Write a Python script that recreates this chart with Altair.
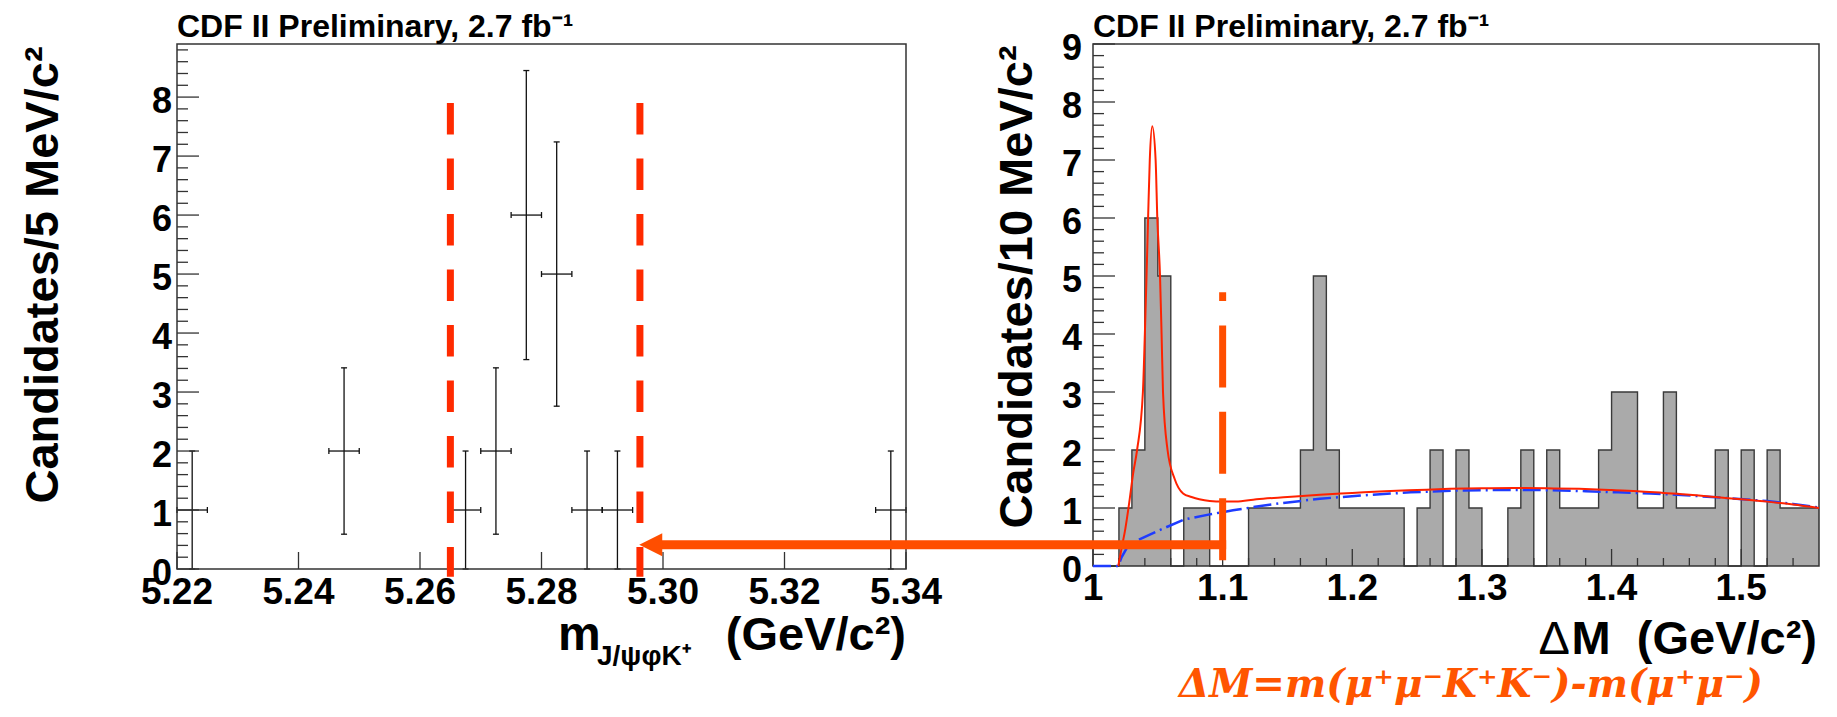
import altair as alt
import pandas as pd

# ---------------- data ----------------
# Left panel: m(J/psi phi K+) in 5 MeV bins
mass_center = [5.2225, 5.2475, 5.2675, 5.2725, 5.2775, 5.2825, 5.2875, 5.2925, 5.3375]
mass_count = [1, 2, 1, 2, 6, 5, 1, 1, 1]
mass_err_lo = [0.0, 0.59, 0.0, 0.59, 3.55, 2.76, 0.0, 0.0, 0.0]
mass_err_hi = [2.0, 3.41, 2.0, 3.41, 8.45, 7.24, 2.0, 2.0, 2.0]
mass_bin_lo = [5.220, 5.245, 5.265, 5.270, 5.275, 5.280, 5.285, 5.290, 5.335]
mass_bin_hi = [5.225, 5.250, 5.270, 5.275, 5.280, 5.285, 5.290, 5.295, 5.340]
mass_window = [5.265, 5.2962]
window_top = [7.90, 7.90]
window_bottom = [-0.13, -0.13]

# Right panel: Delta M in 10 MeV bins from 1.00 to 1.56
dm_bin_lo = [round(1.00 + 0.01 * i, 2) for i in range(56)]
dm_count = [0, 0, 1, 2, 6, 5, 0, 1, 1, 0,
            0, 0, 1, 1, 1, 1, 2, 5, 2, 1,
            1, 1, 1, 1, 0, 1, 2, 0, 2, 1,
            0, 0, 1, 2, 0, 2, 1, 1, 1, 2,
            3, 3, 1, 1, 3, 1, 1, 1, 2, 0,
            2, 0, 2, 1, 1, 1]

fit_dm = [1.0195, 1.022, 1.025, 1.028, 1.031, 1.034, 1.0385, 1.040, 1.0413, 1.0425,
          1.0438, 1.0457, 1.0483, 1.0496, 1.0517, 1.0529, 1.054, 1.0575, 1.063, 1.0695,
          1.076, 1.082, 1.09, 1.10, 1.11, 1.126, 1.15, 1.175, 1.20, 1.225,
          1.25, 1.275, 1.30, 1.325, 1.35, 1.375, 1.40, 1.42, 1.44, 1.46,
          1.48, 1.50, 1.52, 1.54, 1.56]
fit_val = [0.0, 0.3, 0.65, 1.1, 1.6, 2.0, 3.0, 4.0, 5.0, 6.0,
           7.0, 7.58, 7.0, 6.0, 5.0, 4.0, 3.0, 2.0, 1.5, 1.25,
           1.19, 1.15, 1.12, 1.11, 1.11, 1.15, 1.19, 1.23, 1.26, 1.29,
           1.31, 1.33, 1.34, 1.345, 1.34, 1.33, 1.31, 1.29, 1.26, 1.23,
           1.19, 1.15, 1.11, 1.06, 1.00]

bkg_dm = [1.0, 1.0195, 1.022, 1.026, 1.035, 1.0515, 1.07, 1.09, 1.108, 1.125,
          1.144, 1.175, 1.21, 1.245, 1.28, 1.31, 1.345, 1.38, 1.405, 1.43,
          1.45, 1.49, 1.52, 1.54, 1.56]
bkg_val = [0.0, 0.0, 0.15, 0.31, 0.45, 0.62, 0.80, 0.89, 0.96, 1.02,
           1.08, 1.16, 1.22, 1.27, 1.30, 1.31, 1.31, 1.29, 1.27, 1.25,
           1.23, 1.17, 1.12, 1.07, 1.01]

cut_dm = [1.1]
cut_bottom = [0.10]
cut_top = [4.72]
arrow_tip = [0.650]      # lands on the 5.296 window edge of the left panel
arrow_tail = [1.1]
arrow_level = [0.367]

# ticks / labels
left_y_major = list(range(9))
left_y_minor = [round(0.2 * i, 1) for i in range(45) if i % 5]
left_x_major = [5.22, 5.24, 5.26, 5.28, 5.30, 5.32, 5.34]
left_x_labels = ["5.22", "5.24", "5.26", "5.28", "5.30", "5.32", "5.34"]
right_y_major = list(range(10))
right_y_minor = [round(0.2 * i, 1) for i in range(45) if i % 5]
right_x_major = [1.0, 1.1, 1.2, 1.3, 1.4, 1.5]
right_x_labels = ["1", "1.1", "1.2", "1.3", "1.4", "1.5"]
right_x_minor = [round(1.0 + 0.02 * i, 2) for i in range(28) if i % 5]

FONT = "Liberation Sans"
RED = "#FF2A00"
ORANGE = "#FF4E00"
FIT = "#FF2200"
BLUE = "#1E3CFF"
AX = "#333333"


def S(domain, rng):
    return alt.Scale(domain=domain, range=rng, nice=False, zero=False)


xL = S([5.22, 5.34], [0, 729])
yL = S([0, 8.9], [525, 0])
xR = S([1.0, 1.56], [916, 1642])
yR = S([0, 9], [522, 0])


def X(f, s):
    return alt.X(f + ":Q", scale=s, axis=None)


def Y(f, s):
    return alt.Y(f + ":Q", scale=s, axis=None)


def panel_axes(xs, ys, x0, x1, y0, y1, ymaj, ymin, xmaj, xlab, xmin, ylab_dx, xlab_dy):
    layers = []
    frame = pd.DataFrame({"a": [x0], "b": [x1], "c": [y0], "d": [y1]})
    layers.append(alt.Chart(frame).mark_rect(fillOpacity=0, stroke=AX, strokeWidth=1.5)
                  .encode(x=X("a", xs), x2="b", y=Y("c", ys), y2="d"))
    ym = pd.DataFrame({"v": ymaj, "x0": x0, "t": [str(v) for v in ymaj]})
    layers.append(alt.Chart(ym).mark_rule(x2Offset=22, color=AX, strokeWidth=1.3)
                  .encode(y=Y("v", ys), x=X("x0", xs), x2="x0"))
    yn = pd.DataFrame({"v": ymin, "x0": x0})
    layers.append(alt.Chart(yn).mark_rule(x2Offset=11, color=AX, strokeWidth=1.3)
                  .encode(y=Y("v", ys), x=X("x0", xs), x2="x0"))
    xm = pd.DataFrame({"v": xmaj, "y0": y0, "t": xlab})
    layers.append(alt.Chart(xm).mark_rule(y2Offset=-17, color=AX, strokeWidth=1.3)
                  .encode(x=X("v", xs), y=Y("y0", ys), y2="y0"))
    if xmin:
        xn = pd.DataFrame({"v": xmin, "y0": y0})
        layers.append(alt.Chart(xn).mark_rule(y2Offset=-8, color=AX, strokeWidth=1.3)
                      .encode(x=X("v", xs), y=Y("y0", ys), y2="y0"))
    layers.append(alt.Chart(ym).mark_text(font=FONT, fontWeight="bold", fontSize=36, align="right",
                                          baseline="middle", dx=ylab_dx, dy=5, color="black")
                  .encode(y=Y("v", ys), x=X("x0", xs), text="t:N"))
    layers.append(alt.Chart(xm).mark_text(font=FONT, fontWeight="bold", fontSize=37, align="center",
                                          baseline="alphabetic", dy=xlab_dy, color="black")
                  .encode(x=X("v", xs), y=Y("y0", ys), text="t:N"))
    return layers


# ---------------- left panel ----------------
pts = pd.DataFrame({"xc": mass_center, "n": mass_count, "lo": mass_err_lo, "hi": mass_err_hi,
                    "xl": mass_bin_lo, "xh": mass_bin_hi})
ERR = dict(color="#111111", strokeWidth=1.3)
left_layers = []
left_layers.append(alt.Chart(pts).mark_rule(**ERR).encode(x=X("xc", xL), y=Y("lo", yL), y2="hi"))
left_layers.append(alt.Chart(pts).mark_rule(**ERR).encode(x=X("xl", xL), x2="xh", y=Y("n", yL)))
left_layers.append(alt.Chart(pts).mark_rule(xOffset=-3, x2Offset=3, **ERR)
                   .encode(x=X("xc", xL), x2="xc", y=Y("hi", yL)))
left_layers.append(alt.Chart(pts).mark_rule(xOffset=-3, x2Offset=3, **ERR)
                   .encode(x=X("xc", xL), x2="xc", y=Y("lo", yL)))
left_layers.append(alt.Chart(pts).mark_rule(yOffset=-3, y2Offset=3, **ERR)
                   .encode(x=X("xl", xL), y=Y("n", yL), y2="n"))
left_layers.append(alt.Chart(pts).mark_rule(yOffset=-3, y2Offset=3, **ERR)
                   .encode(x=X("xh", xL), y=Y("n", yL), y2="n"))
left_layers += panel_axes(xL, yL, 5.22, 5.34, 0, 8.9, left_y_major, left_y_minor,
                          left_x_major, left_x_labels, [], -5, 35)
win = pd.DataFrame({"x": mass_window, "top": window_top, "bot": window_bottom})
left_layers.append(alt.Chart(win).mark_rule(color=RED, strokeWidth=7, strokeDash=[31.5, 24])
                   .encode(x=X("x", xL), y=Y("top", yL), y2="bot"))
left = alt.layer(*left_layers)

# ---------------- right panel ----------------
hist = pd.DataFrame({"e": dm_bin_lo + [1.56], "n": dm_count + [dm_count[-1]], "z": 0})
right_layers = []
right_layers.append(alt.Chart(hist).mark_area(interpolate="step-after", color="#AAAAAA", orient="vertical")
                    .encode(x=X("e", xR), y=Y("n", yR), y2="z"))
right_layers.append(alt.Chart(hist).mark_line(interpolate="step-after", color="#3A3A3A", strokeWidth=1.4)
                    .encode(x=X("e", xR), y=Y("n", yR)))
right_layers += panel_axes(xR, yR, 1.0, 1.56, 0, 9, right_y_major, right_y_minor,
                           right_x_major, right_x_labels, right_x_minor, -11, 34)
bk = pd.DataFrame({"x": bkg_dm, "y": bkg_val})
right_layers.append(alt.Chart(bk).mark_line(color=BLUE, strokeWidth=2.5, strokeDash=[18, 5, 2, 5])
                    .encode(x=X("x", xR), y=Y("y", yR)))
ft = pd.DataFrame({"x": fit_dm, "y": fit_val})
right_layers.append(alt.Chart(ft).mark_line(color=FIT, strokeWidth=2, interpolate="monotone")
                    .encode(x=X("x", xR), y=Y("y", yR)))
cut = pd.DataFrame({"x": cut_dm, "b": cut_bottom, "t": cut_top})
right_layers.append(alt.Chart(cut).mark_rule(color=ORANGE, strokeWidth=7, strokeDash=[62, 24.4])
                    .encode(x=X("x", xR), y=Y("b", yR), y2="t"))
arr = pd.DataFrame({"tip": arrow_tip, "tail": arrow_tail, "lvl": arrow_level})
right_layers.append(alt.Chart(arr).mark_rule(color=ORANGE, strokeWidth=9, xOffset=20, x2Offset=3.5)
                    .encode(x=X("tip", xR), x2="tail", y=Y("lvl", yR)))
right_layers.append(alt.Chart(arr).mark_point(shape="M-1,0L1,-1L1,1Z", size=529, filled=True,
                                              color=ORANGE, opacity=1, strokeWidth=0, xOffset=11.5)
                    .encode(x=X("tip", xR), y=Y("lvl", yR)))
right = alt.layer(*right_layers)

# ---------------- text annotations ----------------
def txt(s, x, y, size, align="left", weight="bold", angle=0, color="black", font=FONT, style="normal"):
    return (alt.Chart(pd.DataFrame({"t": [s]}))
            .mark_text(font=font, fontSize=size, fontWeight=weight, fontStyle=style, align=align,
                       baseline="alphabetic", angle=angle, color=color)
            .encode(text="t:N", x=alt.value(x), y=alt.value(y)))


notes = alt.layer(
    txt("CDF II Preliminary, 2.7 fb\u207b\u00b9", 0, -7, 32),
    txt("CDF II Preliminary, 2.7 fb\u207b\u00b9", 916, -7, 32),
    txt("Candidates/5 MeV/c\u00b2", -119, 231, 47, align="center", angle=270),
    txt("Candidates/10 MeV/c\u00b2", 855, 243, 47, align="center", angle=270),
    txt("m", 381, 606, 48),
    txt("J/\u03c8\u03c6K\u207a", 420, 621, 28),
    txt("(GeV/c\u00b2)", 729, 606, 47, align="right"),
    txt("M\u00a0\u00a0(GeV/c\u00b2)", 1640, 610, 47, align="right"),
    txt("\u0394", 1393, 610, 47, align="right", weight="normal"),
    txt("\u0394M=m(\u03bc\u207a\u03bc\u207bK\u207aK\u207b)-m(\u03bc\u207a\u03bc\u207b)", 1294, 653, 39,
        align="center", color="#FF5500", font="DejaVu Serif", style="italic"),
)

chart = (alt.layer(left, right, notes)
         .resolve_scale(x="independent", y="independent")
         .properties(width=1642, height=525,
                     autosize=alt.AutoSizeParams(type="none"),
                     padding={"left": 169, "top": 36, "right": 10, "bottom": 140})
         .configure_view(strokeWidth=0))

chart.save("out.html", embed_options={"renderer": "svg", "actions": False})
